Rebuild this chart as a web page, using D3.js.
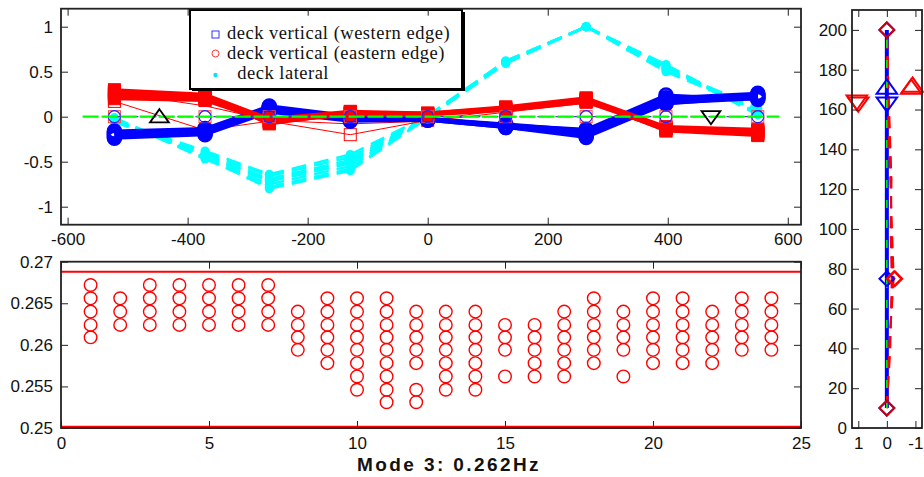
<!DOCTYPE html>
<html>
<head>
<meta charset="utf-8">
<script src="https://cdn.jsdelivr.net/npm/d3@7"></script>
<style>
body { margin: 0; background: #fff; }
svg { display: block; font-family: "Liberation Sans", Arial, sans-serif; }
</style>
</head>
<body>
<script>
var W = 924, H = 477;

// deck mode shape (top panel)
var xNodes = [-522, -371, -264, -129, 0, 130, 264, 397, 550];
var redRuns = [
    [0.25, 0.22, -0.05, 0.04, 0.03, 0.09, 0.18, -0.13, -0.17],
    [0.28, 0.24, -0.03, 0.05, 0.04, 0.10, 0.20, -0.12, -0.15],
    [0.22, 0.20, -0.07, 0.03, 0.03, 0.08, 0.17, -0.15, -0.19],
    [0.30, 0.25, -0.02, 0.06, 0.04, 0.11, 0.21, -0.11, -0.14],
    [0.20, 0.18, -0.06, 0.02, 0.02, 0.07, 0.16, -0.14, -0.20],
    [0.26, 0.21, -0.04, 0.05, 0.03, 0.09, 0.19, -0.16, -0.21],
    [0.24, 0.23, -0.08, 0.04, 0.03, 0.08, 0.18, -0.13, -0.18],
    [0.27, 0.19, -0.04, 0.03, 0.02, 0.10, 0.20, -0.12, -0.16]
];
var redThin = [
    [0.17, -0.15, -0.05, -0.20, -0.04, 0.08, 0.17, -0.13, -0.17],
    [0.27, 0.12, -0.04, -0.08, -0.05, 0.05, 0.15, -0.12, -0.15]
];
var blueRuns = [
    [-0.20, -0.17, 0.08, -0.02, -0.03, -0.10, -0.18, 0.18, 0.23],
    [-0.17, -0.15, 0.10, -0.01, -0.02, -0.09, -0.16, 0.20, 0.25],
    [-0.23, -0.19, 0.06, -0.03, -0.04, -0.12, -0.20, 0.16, 0.21],
    [-0.18, -0.14, 0.11, 0.00, -0.02, -0.08, -0.15, 0.21, 0.26],
    [-0.22, -0.18, 0.07, -0.04, -0.03, -0.11, -0.22, 0.15, 0.20],
    [-0.19, -0.16, 0.09, -0.02, -0.03, -0.10, -0.19, 0.19, 0.24],
    [-0.24, -0.20, 0.05, -0.05, -0.04, -0.12, -0.23, 0.14, 0.22],
    [-0.16, -0.13, 0.12, 0.01, -0.02, -0.09, -0.14, 0.24, 0.19]
];
var cyanRuns = [
    [-0.03, -0.44, -0.72, -0.52, 0.00, 0.61, 1.00, 0.55, 0.05],
    [-0.05, -0.40, -0.66, -0.45, 0.01, 0.62, 1.00, 0.52, 0.08],
    [-0.02, -0.47, -0.78, -0.58, -0.01, 0.60, 1.00, 0.57, 0.03],
    [-0.06, -0.42, -0.69, -0.48, 0.00, 0.61, 1.00, 0.53, 0.10],
    [-0.01, -0.46, -0.75, -0.55, 0.00, 0.60, 1.00, 0.56, 0.02],
    [-0.04, -0.38, -0.64, -0.42, 0.01, 0.62, 1.00, 0.50, 0.07],
    [-0.03, -0.45, -0.80, -0.60, -0.01, 0.59, 1.00, 0.58, 0.04],
    [-0.05, -0.43, -0.70, -0.50, 0.00, 0.61, 1.00, 0.54, 0.06]
];
var zeroRef = [0, 0, 0, 0, 0, 0, 0, 0, 0];
var greenSpan = [-575, 586];
var supportsUp = [-447];
var supportsDown = [472];
var topXTicks = [-600, -400, -200, 0, 200, 400, 600];
var topYTicks = [-1, -0.5, 0, 0.5, 1];
var legendLabels = ["deck vertical (western edge)", "deck vertical (eastern edge)", "  deck lateral"];

// frequency estimates per sample (bottom panel)
var modeIdx = [1, 2, 3, 4, 5, 6, 7, 8, 9, 10, 11, 12, 13, 14, 15, 16, 17, 18, 19, 20, 21, 22, 23, 24];
var modeFreqs = [
    [0.2672, 0.2656, 0.2640, 0.2624, 0.2609],
    [0.2656, 0.2640, 0.2624],
    [0.2672, 0.2656, 0.2640, 0.2624],
    [0.2672, 0.2656, 0.2640, 0.2624],
    [0.2672, 0.2656, 0.2640, 0.2624],
    [0.2672, 0.2656, 0.2640, 0.2624],
    [0.2672, 0.2656, 0.2640, 0.2624],
    [0.2640, 0.2624, 0.2609, 0.2594],
    [0.2656, 0.2640, 0.2624, 0.2609, 0.2594, 0.2578],
    [0.2656, 0.2640, 0.2624, 0.2609, 0.2594, 0.2578, 0.2562, 0.2546],
    [0.2656, 0.2640, 0.2624, 0.2609, 0.2594, 0.2578, 0.2562, 0.2546, 0.2531],
    [0.2640, 0.2624, 0.2609, 0.2594, 0.2578, 0.2546, 0.2531],
    [0.2640, 0.2624, 0.2609, 0.2594, 0.2578, 0.2562, 0.2546],
    [0.2640, 0.2624, 0.2609, 0.2594, 0.2578, 0.2562, 0.2546],
    [0.2624, 0.2609, 0.2594, 0.2562],
    [0.2624, 0.2609, 0.2594, 0.2578, 0.2562],
    [0.2640, 0.2624, 0.2609, 0.2594, 0.2578, 0.2562],
    [0.2656, 0.2640, 0.2624, 0.2609, 0.2594, 0.2578],
    [0.2640, 0.2624, 0.2609, 0.2594, 0.2562],
    [0.2656, 0.2640, 0.2624, 0.2609, 0.2594, 0.2578],
    [0.2656, 0.2640, 0.2624, 0.2609, 0.2594, 0.2578],
    [0.2640, 0.2624, 0.2609, 0.2594, 0.2578],
    [0.2656, 0.2640, 0.2624, 0.2609, 0.2594],
    [0.2656, 0.2640, 0.2624, 0.2609, 0.2594]
];
var freqLimits = [0.2688, 0.2501];
var botXTicks = [0, 5, 10, 15, 20, 25];
var botYTicks = [0.25, 0.255, 0.26, 0.265, 0.27];
var title = "Mode 3: 0.262Hz";

// tower mode shape (right panel)
var towerH = [10, 40, 75, 100, 125, 160, 200];
var towerBlue = [0, 0, 0, 0, 0, 0, 0];
var towerRedRuns = [
    [0, -0.10, -0.20, -0.15, -0.15, -0.06, 0],
    [0, -0.08, -0.24, -0.18, -0.12, -0.04, 0],
    [0, -0.12, -0.17, -0.13, -0.16, -0.08, 0]
];
var towerMarks = [
    {x: 0, y: 200, s: "diamond", c: "#0000ff"},
    {x: 0, y: 200, s: "diamond", c: "#cc0000"},
    {x: 0, y: 10, s: "diamond", c: "#0000ff"},
    {x: 0, y: 10, s: "diamond", c: "#cc0000"},
    {x: 0, y: 75, s: "diamond", c: "#0000ff"},
    {x: -0.25, y: 75, s: "diamond", c: "#ff0000"},
    {x: -0.28, y: 75, s: "diamond", c: "#ff0000"},
    {x: 0, y: 171, s: "up", c: "#0000ff"},
    {x: 0, y: 163, s: "down", c: "#0000ff"},
    {x: 1.0, y: 163, s: "down", c: "#ff0000"},
    {x: 1.05, y: 164, s: "down", c: "#ff0000"},
    {x: -0.85, y: 171, s: "up", c: "#ff0000"},
    {x: -0.9, y: 172, s: "up", c: "#ff0000"}
];
var rightXTicks = [1, 0, -1];
var rightYTicks = [0, 20, 40, 60, 80, 100, 120, 140, 160, 180, 200];

var svg = d3.select("body")
    .append("svg")
    .attr("width", W)
    .attr("height", H);

var fmt = function (d) { return String(d); };
var tick = 7;

function frame(g, x, y, xt, yt, xpad, ypad) {
    var r = x.range(), t = y.range();
    g.append("g")
        .attr("transform", "translate(0," + t[0] + ")")
        .call(d3.axisBottom(x).tickValues(xt).tickSize(-tick).tickPadding(xpad).tickFormat(fmt));
    g.append("g")
        .attr("transform", "translate(0," + t[1] + ")")
        .call(d3.axisTop(x).tickValues(xt).tickSize(-tick).tickFormat(""));
    g.append("g")
        .attr("transform", "translate(" + r[0] + ",0)")
        .call(d3.axisLeft(y).tickValues(yt).tickSize(-tick).tickPadding(ypad).tickFormat(fmt));
    g.append("g")
        .attr("transform", "translate(" + r[1] + ",0)")
        .call(d3.axisRight(y).tickValues(yt).tickSize(-tick).tickFormat(""));
    g.selectAll(".domain").attr("stroke", "none");
    g.selectAll(".tick line").attr("stroke", "#222").attr("stroke-width", 1);
    g.selectAll(".tick text").attr("font-size", 17).attr("fill", "#111")
        .attr("font-family", "'Liberation Sans', Arial, sans-serif");
    g.append("rect")
        .attr("x", r[0]).attr("y", t[1])
        .attr("width", r[1] - r[0]).attr("height", t[0] - t[1])
        .attr("fill", "none").attr("stroke", "#222").attr("stroke-width", 1.8);
}

function markerPath(s, size) {
    if (s === "diamond") return d3.symbol().type(d3.symbolDiamond2).size(size)();
    var h = Math.sqrt(size) * 0.9;
    if (s === "up") return "M0," + (-h * 0.8) + "L" + h + "," + (h * 0.6) + "L" + (-h) + "," + (h * 0.6) + "Z";
    return "M0," + (h * 0.8) + "L" + h + "," + (-h * 0.6) + "L" + (-h) + "," + (-h * 0.6) + "Z";
}

// ---------- top panel ----------
var xT = d3.scaleLinear().domain([-611, 622]).range([61, 801]);
var yT = d3.scaleLinear().domain([-1.2, 1.2]).range([224.7, 8.7]);
var topG = svg.append("g");
var lineT = d3.line()
    .x(function (d, i) { return xT(xNodes[i]); })
    .y(function (d) { return yT(d); });

// cyan drawn segment by segment so the dash pattern restarts at each node
cyanRuns.forEach(function (run) {
    var pts = run.map(function (d, i) { return [xT(xNodes[i]), yT(d)]; });
    topG.selectAll(null).data(d3.pairs(pts)).enter().append("path")
        .attr("d", function (p) { return d3.line()(p); })
        .attr("fill", "none").attr("stroke", "#00ffff")
        .attr("stroke-width", 2.5).attr("stroke-dasharray", "15,8");
});
cyanRuns.forEach(function (run) {
    topG.selectAll(null).data(run).enter().append("circle")
        .attr("cx", function (d, i) { return xT(xNodes[i]); })
        .attr("cy", function (d) { return yT(d); })
        .attr("r", 4.5).attr("fill", "#00ffff");
});

topG.selectAll("path.redthin")
    .data(redThin).enter().append("path")
    .attr("class", "redthin")
    .attr("d", lineT)
    .attr("fill", "none").attr("stroke", "#ff0000").attr("stroke-width", 1);
topG.selectAll(null).data(redThin[0]).enter().append("rect")
    .attr("x", function (d, i) { return xT(xNodes[i]) - 6; })
    .attr("y", function (d) { return yT(d) - 6; })
    .attr("width", 12).attr("height", 12)
    .attr("fill", "none").attr("stroke", "#ff0000").attr("stroke-width", 1);

topG.selectAll("path.blue")
    .data(blueRuns).enter().append("path")
    .attr("class", "blue")
    .attr("d", lineT)
    .attr("fill", "none").attr("stroke", "#0000ff").attr("stroke-width", 3);
blueRuns.forEach(function (run) {
    topG.selectAll(null).data(run).enter().append("circle")
        .attr("cx", function (d, i) { return xT(xNodes[i]); })
        .attr("cy", function (d) { return yT(d); })
        .attr("r", 6.5).attr("fill", "none")
        .attr("stroke", "#0000ff").attr("stroke-width", 2.5);
});

topG.selectAll("path.red")
    .data(redRuns).enter().append("path")
    .attr("class", "red")
    .attr("d", lineT)
    .attr("fill", "none").attr("stroke", "#ff0000").attr("stroke-width", 3);
redRuns.forEach(function (run) {
    topG.selectAll(null).data(run).enter().append("rect")
        .attr("x", function (d, i) { return xT(xNodes[i]) - 6; })
        .attr("y", function (d) { return yT(d) - 6; })
        .attr("width", 12).attr("height", 12)
        .attr("fill", "#ff0000").attr("stroke", "#ff0000").attr("stroke-width", 1);
});

// undeformed reference
topG.append("path")
    .attr("d", lineT(zeroRef))
    .attr("fill", "none").attr("stroke", "#6633cc").attr("stroke-width", 1.2)
    .attr("stroke-dasharray", "6,3");
topG.selectAll(null).data(zeroRef).enter().append("rect")
    .attr("x", function (d, i) { return xT(xNodes[i]) - 6; })
    .attr("y", function (d) { return yT(d) - 6; })
    .attr("width", 12).attr("height", 12)
    .attr("fill", "none").attr("stroke", "#ff4444").attr("stroke-width", 1);
topG.selectAll(null).data(zeroRef).enter().append("circle")
    .attr("cx", function (d, i) { return xT(xNodes[i]); })
    .attr("cy", function (d) { return yT(d); })
    .attr("r", 6).attr("fill", "none")
    .attr("stroke", "#2222ff").attr("stroke-width", 1.2);

topG.append("line")
    .attr("x1", xT(greenSpan[0])).attr("x2", xT(greenSpan[1]))
    .attr("y1", yT(0)).attr("y2", yT(0))
    .attr("stroke", "#00ff00").attr("stroke-width", 2.2)
    .attr("stroke-dasharray", "16,3");

topG.selectAll(null).data(supportsUp).enter().append("path")
    .attr("transform", function (d) { return "translate(" + xT(d) + "," + yT(0) + ")"; })
    .attr("d", markerPath("up", 110))
    .attr("fill", "none").attr("stroke", "#000").attr("stroke-width", 1.8);
topG.selectAll(null).data(supportsDown).enter().append("path")
    .attr("transform", function (d) { return "translate(" + xT(d) + "," + yT(0) + ")"; })
    .attr("d", markerPath("down", 110))
    .attr("fill", "none").attr("stroke", "#000").attr("stroke-width", 1.8);

// legend
var leg = topG.append("g");
leg.append("rect")
    .attr("x", 190).attr("y", 10).attr("width", 272).attr("height", 79)
    .attr("fill", "#fff").attr("stroke", "#000").attr("stroke-width", 2);
leg.append("path")
    .attr("d", "M192,89.5H463.5V12")
    .attr("fill", "none").attr("stroke", "#000").attr("stroke-width", 3);
svg.append("clipPath").attr("id", "legclip")
    .append("rect").attr("x", 190).attr("y", 10).attr("width", 272).attr("height", 71);
var legText = leg.append("g").attr("clip-path", "url(#legclip)");
legText.selectAll("text")
    .data(legendLabels).enter().append("text")
    .text(function (d) { return d; })
    .attr("x", 227)
    .attr("y", function (d, i) { return 39 + i * 20; })
    .attr("xml:space", "preserve")
    .style("white-space", "pre")
    .attr("font-family", "'Liberation Serif', 'Times New Roman', serif")
    .attr("font-size", 18.5).attr("letter-spacing", 0.5).attr("fill", "#111");
leg.append("rect").attr("x", 212).attr("y", 31).attr("width", 7).attr("height", 7)
    .attr("fill", "none").attr("stroke", "#3333ff").attr("stroke-width", 1);
leg.append("circle").attr("cx", 215.5).attr("cy", 53.5).attr("r", 3.5)
    .attr("fill", "none").attr("stroke", "#ff3333").attr("stroke-width", 1);
leg.append("circle").attr("cx", 215.5).attr("cy", 75).attr("r", 2.2).attr("fill", "#00e5ff");

frame(topG, xT, yT, topXTicks, topYTicks, 8, 8);

// ---------- bottom panel ----------
var xB = d3.scaleLinear().domain([0, 25]).range([61, 801]);
var yB = d3.scaleLinear().domain([0.25, 0.27]).range([428, 261.7]);
var bot = svg.append("g");
bot.selectAll("line.lim")
    .data(freqLimits).enter().append("line")
    .attr("class", "lim")
    .attr("x1", xB(0)).attr("x2", xB(25))
    .attr("y1", function (d) { return yB(d); })
    .attr("y2", function (d) { return yB(d); })
    .attr("stroke", "#ff0000")
    .attr("stroke-width", function (d, i) { return i === 0 ? 2 : 3; });
modeFreqs.forEach(function (fs, k) {
    bot.selectAll(null).data(fs).enter().append("circle")
        .attr("cx", xB(modeIdx[k]))
        .attr("cy", function (d) { return yB(d); })
        .attr("r", 6.3).attr("fill", "none")
        .attr("stroke", "#ff0000").attr("stroke-width", 1.4);
});
frame(bot, xB, yB, botXTicks, botYTicks, 9, 8);

svg.append("text")
    .text(title)
    .attr("x", 449).attr("y", 471)
    .attr("text-anchor", "middle")
    .attr("font-family", "'Liberation Sans', Arial, sans-serif")
    .attr("font-weight", "bold").attr("font-size", 19)
    .attr("letter-spacing", 2.4).attr("fill", "#111");

// ---------- right panel ----------
var xR = d3.scaleLinear().domain([1.22, -1.23]).range([852, 922]);
var yR = d3.scaleLinear().domain([0, 210]).range([428, 10]);
var rightG = svg.append("g");
var lineR = d3.line()
    .x(function (d) { return xR(d); })
    .y(function (d, i) { return yR(towerH[i]); });
rightG.append("path")
    .attr("d", lineR(towerBlue))
    .attr("fill", "none").attr("stroke", "#0000ff").attr("stroke-width", 4);
rightG.selectAll("path.tred")
    .data(towerRedRuns).enter().append("path")
    .attr("class", "tred")
    .attr("d", lineR)
    .attr("fill", "none").attr("stroke", "#ff0000").attr("stroke-width", 2)
    .attr("stroke-dasharray", "12,8");
rightG.append("path")
    .attr("d", lineR(towerBlue))
    .attr("fill", "none").attr("stroke", "#00ff00").attr("stroke-width", 1.5)
    .attr("stroke-dasharray", "8,12");
rightG.selectAll("path.mk")
    .data(towerMarks).enter().append("path")
    .attr("class", "mk")
    .attr("transform", function (d) { return "translate(" + xR(d.x) + "," + yR(d.y) + ")"; })
    .attr("d", function (d) { return markerPath(d.s, d.s === "diamond" ? 140 : 130); })
    .attr("fill", "none")
    .attr("stroke", function (d) { return d.c; })
    .attr("stroke-width", 2);
frame(rightG, xR, yR, rightXTicks, rightYTicks, 9, 5);
</script>
</body>
</html>
